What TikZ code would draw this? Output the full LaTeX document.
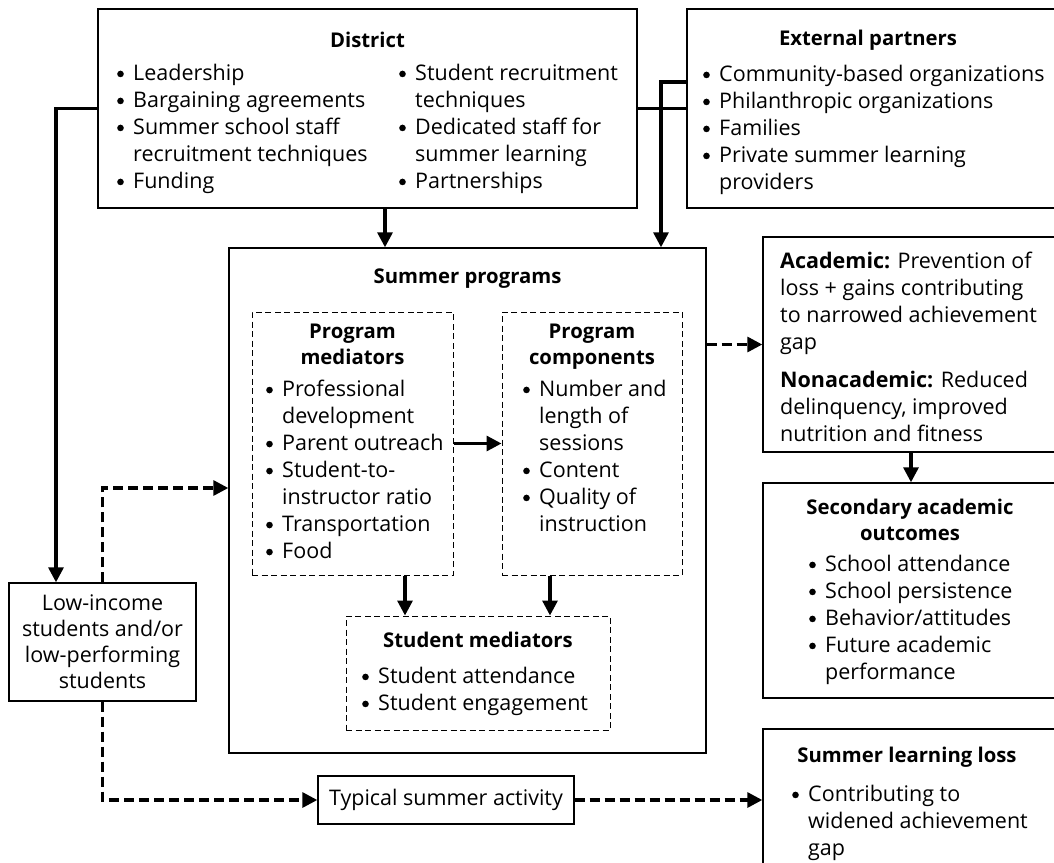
\documentclass[tikz,border=0pt]{standalone}
\usepackage{fontspec}
\setmainfont{Open Sans}
\usetikzlibrary{arrows.meta}
\newcommand{\B}{\makebox[16pt][l]{\tikz[baseline=0pt]\fill (3.6pt,6.6pt) circle[radius=3.3pt];}}
\newcommand{\I}{\hspace*{16pt}}
\begin{document}
\begin{tikzpicture}[x=1pt,y=-1pt,
  box/.style={draw,line width=1.4pt,inner sep=0pt},
  dbox/.style={draw,line width=1pt,dash pattern=on 6pt off 3.5pt,inner sep=0pt},
  txt/.style={inner sep=0pt,font=\fontsize{21.5}{27}\selectfont,align=left,anchor=north west},
  ctxt/.style={inner sep=0pt,font=\fontsize{21.5}{26}\selectfont,align=center,anchor=north},
  ttl/.style={ctxt,font=\fontsize{20.3}{25.5}\selectfont\bfseries},
  arr/.style={line width=3.2pt,-{Triangle[length=15pt,width=15pt]}},
  darr/.style={line width=3.2pt,dash pattern=on 10pt off 5pt,-{Triangle[length=15pt,width=15pt]}},
  con/.style={line width=3.2pt}
]
\useasboundingbox (0,0) rectangle (1054,862);
\clip (0,0) rectangle (1054,862);

% boxes
\node[box,minimum width=539pt,minimum height=199pt] (district) at (367.5,108.5) {};
\node[box,minimum width=383pt,minimum height=199pt] (ext) at (878.5,108.5) {};
\node[box,minimum width=477pt,minimum height=505pt] (summer) at (467.5,500.5) {};
\node[dbox,minimum width=201pt,minimum height=263pt] (pmed) at (352.5,443.5) {};
\node[dbox,minimum width=180pt,minimum height=263pt] (pcomp) at (592,443.5) {};
\node[dbox,minimum width=264pt,minimum height=114pt] (smed) at (478,673) {};
\node[box,minimum width=307pt,minimum height=215pt] (acad) at (916.5,344.5) {};
\node[box,minimum width=307pt,minimum height=215pt] (sec) at (916.5,590.5) {};
\node[box,minimum width=187pt,minimum height=118pt] (low) at (102.5,642) {};
\node[box,minimum width=256pt,minimum height=48pt] (typ) at (446,800) {};
\node[box,minimum width=307pt,minimum height=151pt] (loss) at (916.5,804.5) {};

% texts
\node[ttl] (districtT) at (367.5,32) {District};
\node[txt] (districtL) at (117,64) {\B Leadership\\\B Bargaining agreements\\\B Summer school staff\\\I recruitment techniques\\\B Funding};
\node[txt] (districtR) at (399,64) {\B Student recruitment\\\I techniques\\\B Dedicated staff for\\\I summer learning\\\B Partnerships};
\node[ttl] (extT) at (868,30) {External partners};
\node[txt] (extL) at (703,65) {\B Community-based organizations\\\B Philanthropic organizations\\\B Families\\\B Private summer learning\\\I providers};
\node[ttl] (summerT) at (467.5,269) {Summer programs};
\node[ttl] (pmedT) at (352.5,324) {Program\\mediators};
\node[txt] (pmedL) at (266,380) {\B Professional\\\I development\\\B Parent outreach\\\B Student-to-\\\I instructor ratio\\\B Transportation\\\B Food};
\node[ttl] (pcompT) at (592,324) {Program\\components};
\node[txt] (pcompL) at (523,380) {\B Number and\\\I length of\\\I sessions\\\B Content\\\B Quality of\\\I instruction};
\node[ttl] (smedT) at (478,632) {Student mediators};
\node[txt] (smedL) at (362,667) {\B Student attendance\\\B Student engagement};
\node[txt] (acadL) at (780,252) {\textbf{Academic:} Prevention of\\loss + gains contributing\\to narrowed achievement\\gap\\[11pt]\textbf{Nonacademic:} Reduced\\delinquency, improved\\nutrition and fitness};
\node[ttl] (secT) at (910,499) {Secondary academic\\outcomes};
\node[txt] (secL) at (809,555) {\B School attendance\\\B School persistence\\\B Behavior/attitudes\\\B Future academic\\\I performance};
\node[ctxt] (lowT) at (102.5,595) {Low-income\\students and/or\\low-performing\\students};
\node[ctxt,anchor=center] (typT) at (446,800) {Typical summer activity};
\node[ttl] (lossT) at (907,747) {Summer learning loss};
\node[txt] (lossL) at (792,785) {\B Contributing to\\\I widened achievement\\\I gap};

% connectors
\coordinate (lx) at (56,0);
\coordinate (e1) at (661,82);
\coordinate (d1) at (385,0);
\coordinate (m1) at (405,0);
\coordinate (m2) at (550,0);
\coordinate (a1) at (911,0);
\coordinate (s1) at (0,488);

\draw[arr] (district.west) -| (lx |- low.north);
\draw[con] (district.east) -- (ext.west);
\draw[arr] (ext.west |- e1) -- (e1) -- (e1 |- summer.north);
\draw[arr] (d1 |- district.south) -- (d1 |- summer.north);
\draw[arr] (pmed.east) -- (pcomp.west);
\draw[arr] (m1 |- pmed.south) -- (m1 |- smed.north);
\draw[arr] (m2 |- pcomp.south) -- (m2 |- smed.north);
\draw[darr] (summer.east |- acad.west) -- (acad.west);
\draw[arr] (a1 |- acad.south) -- (a1 |- sec.north);
\draw[darr] (low.north) |- (summer.west |- s1);
\draw[darr] (low.south) |- (typ.west);
\draw[darr] (typ.east) -- (loss.west |- typ.east);
\end{tikzpicture}
\end{document}
